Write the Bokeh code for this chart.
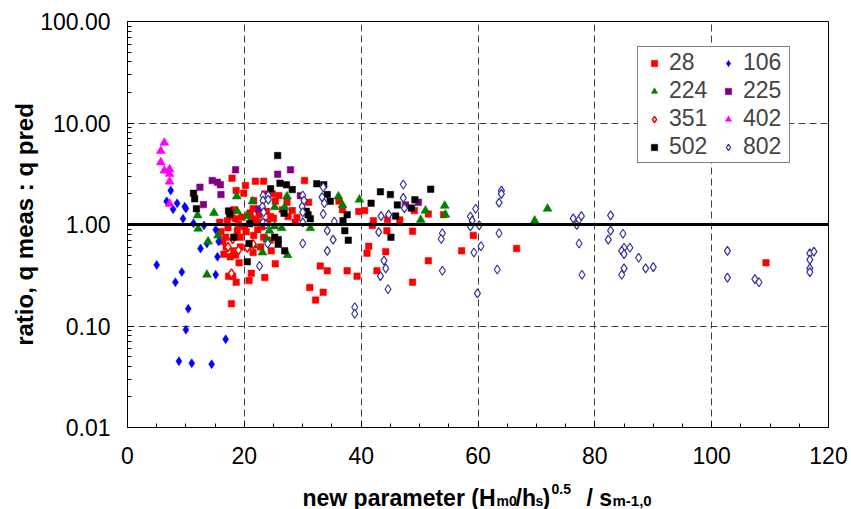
import math
from bokeh.plotting import figure
from bokeh.layouts import column
from bokeh.models import (Range1d, Span, Legend, LegendItem, Label, FixedTicker, Title,
                          SingleIntervalTicker, PrintfTickFormatter)
from bokeh.embed import file_html
from bokeh.resources import INLINE

# ---------------- data ----------------
x28 = [17.9, 18.6, 20.2, 21.9, 23.3, 30.3, 19.9, 21.6, 23.5, 24.8, 25.3, 29.0, 31.0, 18.2,
       25.9, 27.3, 28.2, 24.5, 21.5, 20.8, 22.3, 24.4, 24.6,
       17.1, 18.5, 19.6, 21.2, 22.1, 23.3, 17.2, 18.8, 16.8, 19.3, 21.6, 23.3, 16.9, 18.2,
       19.3, 21.5, 22.8, 16.5, 18.5, 15.8, 16.0, 16.3,
       26.5, 27.5, 28.7, 24.0, 21.0, 22.5, 23.8, 25.0, 20.0, 19.0, 17.8, 20.3, 23.0, 17.6,
       17.8, 18.6, 17.3, 18.0, 20.8, 21.2, 23.5, 25.3, 19.1, 31.2,
       33.0, 34.2, 33.5, 32.2, 37.6, 39.3, 40.6, 42.1, 41.3, 41.0, 42.7,
       36.2, 36.8, 39.6, 41.9, 44.5, 44.4, 46.6, 49.1, 51.5, 54.1, 48.8, 44.2, 51.5,
       57.2, 59.2, 66.6, 48.8, 109.3]
y28 = [2.86, 2.16, 2.42, 2.67, 2.67, 2.71, 2.03, 1.72, 2.00, 2.00, 1.69, 1.17, 1.66, 1.40,
       1.93, 1.66, 1.37, 1.20, 1.43, 1.25, 0.89, 0.70, 0.55,
       1.09, 1.14, 1.18, 1.14, 1.11, 1.05, 0.93, 0.87, 0.75, 0.75, 0.78, 0.75, 0.60, 0.55,
       0.60, 0.53, 0.60, 0.51, 0.50, 1.05, 0.85, 0.68,
       1.40, 1.20, 1.05, 1.05, 1.30, 1.25, 1.35, 1.15, 0.95, 1.00, 1.20, 0.85, 0.95, 0.48,
       0.166, 0.27, 0.31, 0.31, 0.28, 0.33, 0.30, 0.41, 0.42, 0.24,
       0.39, 0.35, 0.215, 0.18, 0.35, 0.31, 1.37, 1.09, 0.61, 0.52, 0.35,
       1.70, 1.40, 1.34, 0.98, 1.12, 0.87, 1.11, 1.37, 1.27, 1.25, 0.86, 0.54, 0.44,
       0.55, 0.78, 0.58, 0.27, 0.42]

x106 = [7.4, 6.7, 8.5, 7.8, 9.8, 10.0, 9.5, 11.3, 13.1, 15.1, 15.6, 13.6, 12.5, 15.4,
        15.1, 9.3, 8.2, 5.0, 10.4, 10.0, 16.8, 8.8, 11.0, 14.4]
y106 = [2.16, 1.69, 1.62, 1.41, 1.50, 1.44, 1.14, 1.03, 0.98, 0.89, 0.68, 0.65, 0.58, 0.48,
        0.32, 0.34, 0.27, 0.40, 0.148, 0.092, 0.074, 0.045, 0.043, 0.042]

x224 = [18.7, 21.4, 25.2, 27.3, 26.9, 18.8, 20.5, 12.0, 14.8, 12.1, 13.8, 15.5, 25.2, 26.4,
        23.9, 21.6, 23.1, 27.4, 13.6, 24.3, 31.3, 36.1, 36.8, 39.7, 51.0, 54.3, 54.4, 50.2,
        69.7, 71.9]
y224 = [1.89, 1.69, 1.48, 1.89, 1.48, 1.35, 1.21, 1.23, 1.30, 0.91, 0.68, 0.78, 0.96, 0.92,
        0.71, 0.62, 0.53, 0.50, 0.32, 0.87, 0.92, 1.89, 1.56, 1.76, 1.37, 1.53, 1.25, 1.11,
        1.09, 1.43]

x225 = [18.5, 12.4, 14.5, 15.4, 15.9, 16.0, 13.0, 25.7, 27.9, 22.5, 29.6, 47.6, 49.8]
y225 = [3.46, 2.33, 2.71, 2.61, 2.46, 1.97, 1.57, 3.13, 3.46, 1.42, 1.92, 1.56, 1.66]

x351 = [18.0, 17.2, 19.0, 20.5, 21.5, 17.8]
y351 = [0.72, 0.60, 0.56, 0.59, 0.64, 0.33]

x402 = [6.3, 5.7, 5.7, 6.3, 7.2, 7.2, 7.2, 7.2]
y402 = [6.4, 5.3, 4.1, 3.4, 3.5, 3.15, 2.65, 1.6]

x502 = [25.7, 11.3, 11.5, 11.8, 17.3, 17.5, 20.9, 18.2, 20.8, 20.5, 24.5, 26.1, 27.2, 28.2,
        26.8, 25.2, 25.8, 25.8, 26.9, 32.4, 33.6, 34.2, 30.6, 30.9, 31.3, 37.6, 37.2, 37.8,
        41.7, 43.3, 34.7, 36.9, 45.0, 46.2, 48.6, 49.2, 51.9, 45.9, 45.1]
y502 = [4.78, 2.03, 1.79, 1.43, 1.36, 1.27, 1.02, 0.75, 0.65, 0.43, 2.25, 2.55, 2.46, 2.21,
        1.29, 0.75, 0.71, 0.64, 0.55, 2.52, 2.46, 1.97, 1.35, 1.25, 1.14, 1.25, 0.87, 0.70,
        1.62, 2.10, 1.69, 1.09, 1.97, 1.56, 1.45, 1.75, 2.23, 1.21, 0.75]

x802 = [23.2, 24.1, 23.2, 24.1, 23.1, 30.0, 30.2, 29.9, 30.0, 33.5, 33.3, 33.7, 33.5, 34.2,
        35.2, 30.0, 23.3, 23.2, 24.0, 22.6, 34.2, 35.4, 38.9, 38.9, 43.3, 43.4, 44.7, 47.2,
        47.2, 47.4, 43.0, 43.9, 44.2, 44.6, 53.9, 53.7, 53.9, 58.7, 59.0, 59.6, 58.7, 60.2,
        60.5, 59.3, 59.9, 64.0, 64.0, 63.6, 63.6, 63.3, 76.3, 76.9, 77.3, 77.7, 77.3, 77.8,
        82.7, 82.7, 84.8, 82.3, 85.0, 84.6, 85.0, 86.0, 87.5, 85.0, 84.6, 88.7, 90.0, 102.7,
        102.7, 107.4, 108.1, 116.8, 117.5, 116.8, 116.8, 116.8, 23.7, 30.0]
y802 = [1.93, 1.93, 1.72, 1.76, 1.50, 1.93, 1.72, 1.50, 1.32, 2.33, 1.86, 1.62, 1.27, 0.87,
        0.71, 0.65, 1.32, 1.05, 0.65, 0.39, 0.55, 1.07, 0.153, 0.132, 0.31, 1.21, 1.25, 2.48,
        1.83, 1.45, 0.84, 0.44, 0.37, 0.23, 0.82, 0.72, 0.35, 1.20, 1.09, 1.43, 0.96, 0.98,
        0.61, 0.53, 0.21, 2.16, 2.00, 1.64, 0.82, 0.36, 1.15, 0.99, 1.12, 1.21, 0.65, 0.32,
        1.23, 0.87, 0.81, 0.71, 0.59, 0.55, 0.51, 0.59, 0.47, 0.37, 0.32, 0.37, 0.38, 0.55,
        0.30, 0.29, 0.27, 0.52, 0.54, 0.45, 0.37, 0.34, 1.00, 1.05]

ref_ratio = 1.0
y_ticks = [0.01, 0.1, 1, 10, 100]
y_minor = [m * t for t in y_ticks[:-1] for m in range(2, 10)]

FONT = "Liberation Sans"

# ---------------- main figure ----------------
p = figure(width=851, height=474, x_range=Range1d(0, 120), y_range=Range1d(0.01, 100),
           y_axis_type="log", output_backend="svg", toolbar_location=None,
           min_border_left=127, min_border_right=23, min_border_top=21, min_border_bottom=47)
p.background_fill_color = "white"
p.border_fill_color = "white"
p.outline_line_color = "black"
p.outline_line_width = 1

p.xaxis.ticker = SingleIntervalTicker(interval=20, num_minor_ticks=4)
p.yaxis.ticker = FixedTicker(ticks=y_ticks, minor_ticks=y_minor)
p.yaxis.formatter = PrintfTickFormatter(format="%.2f")

for ax in (p.xaxis, p.yaxis):
    ax.axis_line_color = "black"
    ax.axis_line_width = 1
    ax.major_tick_in = 6
    ax.major_tick_out = 0
    ax.minor_tick_in = 4
    ax.minor_tick_out = 0
    ax.major_tick_line_color = "black"
    ax.minor_tick_line_color = "black"
    ax.major_label_text_font = FONT
    ax.major_label_text_font_size = "23px"
    ax.major_label_text_color = "black"
p.xaxis.major_label_standoff = 19
p.yaxis.major_label_standoff = 17

for g in (p.xgrid, p.ygrid):
    g.grid_line_color = "#404040"
    g.grid_line_dash = "7 4"
    g.grid_line_width = 1

p.add_layout(Span(location=ref_ratio, dimension="width", line_color="black", line_width=3))

r28 = p.scatter(x28, y28, marker="square", size=6.5, fill_color="#FF0000", line_color="#FF0000", line_width=0.5)
r106 = p.scatter(x106, y106, marker="diamond", size=9, fill_color="#0000FF", line_color="#0000FF", line_width=0.5)
r224 = p.scatter(x224, y224, marker="triangle", size=9, fill_color="#008000", line_color="#008000", line_width=0.5)
r225 = p.scatter(x225, y225, marker="square", size=6.5, fill_color="#800080", line_color="#800080", line_width=0.5)
r351 = p.scatter(x351, y351, marker="diamond", size=9, fill_color="white", line_color="#FF0000", line_width=1.5)
r402 = p.scatter(x402, y402, marker="triangle", size=9, fill_color="#FF00FF", line_color="#FF00FF", line_width=0.5)
r502 = p.scatter(x502, y502, marker="square", size=6.5, fill_color="black", line_color="black", line_width=0.5)
r802 = p.scatter(x802, y802, marker="diamond", size=9, fill_color="white", line_color="#333399", line_width=1.2)

items = [LegendItem(label="28", renderers=[r28]),
         LegendItem(label="224", renderers=[r224]),
         LegendItem(label="351", renderers=[r351]),
         LegendItem(label="502", renderers=[r502]),
         LegendItem(label="106", renderers=[r106]),
         LegendItem(label="225", renderers=[r225]),
         LegendItem(label="402", renderers=[r402]),
         LegendItem(label="802", renderers=[r802])]
legend = Legend(items=items, ncols=2, location=(510, 264),
                label_text_font=FONT, label_text_font_size="23px",
                glyph_width=28, glyph_height=16, label_height=16, label_width=44,
                label_standoff=1, spacing=1, padding=2, margin=0,
                border_line_color="black", border_line_width=1,
                background_fill_color="white", background_fill_alpha=1)
p.add_layout(legend)

# y axis title
p.add_layout(Title(text="ratio, q meas : q pred", align="center", offset=6,
                   text_font=FONT, text_font_style="bold", text_font_size="24px",
                   text_color="black", standoff=0), "left")

# ---------------- x axis title strip (frame aligned with main frame: page x 127..828) ----------------
xt = figure(width=851, height=35, x_range=Range1d(127, 828), y_range=Range1d(0, 35),
            output_backend="svg", toolbar_location=None,
            x_axis_location=None, y_axis_location=None, min_border=0)
xt.outline_line_color = None
xt.grid.visible = False
xt.background_fill_color = "white"
xt.border_fill_color = "white"

parts = [("new parameter (H", 302, 497, "23px"),
         ("m0", 496, 500, "14px"),
         ("/h", 515, 497, "23px"),
         ("s", 535, 500, "14px"),
         (")", 542, 497, "23px"),
         ("0.5", 551, 488, "14px"),
         ("/ s", 586, 497, "23px"),
         ("m-1,0", 612, 500, "15px")]
for txt, px, py, fs in parts:
    xt.add_layout(Label(x=px, y=509 - py, text=txt, text_align="left",
                        text_baseline="alphabetic", text_font=FONT,
                        text_font_style="bold", text_font_size=fs, text_color="black"))

page = column(p, xt, spacing=0)
open("out.html", "w").write(file_html(page, INLINE))
